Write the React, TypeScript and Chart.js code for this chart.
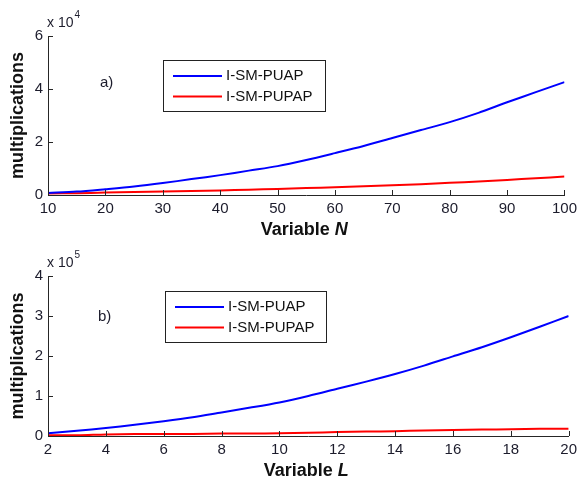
import React, { useEffect, useRef } from "react";
import { Chart, registerables } from "chart.js";

Chart.register(...registerables);

// ---- Data ----
const seriesNames = ["I-SM-PUAP", "I-SM-PUPAP"];

const topN = [10, 15, 20, 25, 30, 35, 40, 45, 50, 55, 60, 65, 70, 75, 80, 85, 90, 95, 100];
const topPUAP = [800, 1300, 2200, 3200, 4500, 6000, 7500, 9200, 10900, 13200, 15800, 18500, 21500, 24500, 27500, 31000, 35000, 38800, 42600];
const topPUPAP = [600, 700, 900, 1100, 1300, 1500, 1700, 2000, 2300, 2600, 2900, 3300, 3700, 4100, 4600, 5100, 5700, 6300, 7000];

const botL = [2, 3, 4, 5, 6, 7, 8, 9, 10, 11, 12, 13, 14, 15, 16, 17, 18, 19, 20];
const botPUAP = [7000, 13000, 20000, 28000, 37000, 47000, 59000, 71000, 84000, 100000, 118000, 136000, 155000, 176000, 199000, 222000, 247000, 273000, 300000];
const botPUPAP = [2000, 2000, 4000, 5000, 5000, 5000, 6000, 6000, 7000, 8000, 10000, 11000, 12000, 14000, 15000, 16000, 17000, 18000, 18000];

const topXTicks = { min: 10, max: 100, step: 10 };
const topYTicks = { min: 0, max: 60000, step: 20000, exp: 4 };
const botXTicks = { min: 2, max: 20, step: 2 };
const botYTicks = { min: 0, max: 400000, step: 100000, exp: 5 };

const FONT = "'Liberation Sans', Arial, sans-serif";
const AXIS = "#262626";
const TXT = "#1c1c2c";

type PanelCfg = {
  xs: number[];
  ys: number[][];
  xT: { min: number; max: number; step: number };
  yT: { min: number; max: number; step: number; exp: number };
  tag: string;
  varName: string;
  legendBox: [number, number, number, number];
  tagPos: [number, number];
};

function makePlugin(cfg: PanelCfg) {
  return {
    id: "decor",
    afterDraw(chart: any) {
      const ctx = chart.ctx as CanvasRenderingContext2D;
      const ca = chart.chartArea;
      const xs = chart.scales.x;
      const ys = chart.scales.y;
      ctx.save();
      // inward ticks
      ctx.strokeStyle = AXIS;
      ctx.lineWidth = 1;
      ctx.beginPath();
      xs.ticks.forEach((t: any) => {
        const px = Math.round(xs.getPixelForValue(t.value)) + 0.5;
        ctx.moveTo(px, ca.bottom);
        ctx.lineTo(px, ca.bottom - 5);
      });
      ys.ticks.forEach((t: any) => {
        const py = Math.round(ys.getPixelForValue(t.value)) + 0.5;
        ctx.moveTo(ca.left, py);
        ctx.lineTo(ca.left + 5, py);
      });
      ctx.stroke();

      // exponent label
      ctx.fillStyle = TXT;
      ctx.textBaseline = "alphabetic";
      ctx.textAlign = "left";
      ctx.font = `14px ${FONT}`;
      ctx.fillText("x 10", ca.left - 1, ca.top - 9);
      const w = ctx.measureText("x 10").width;
      ctx.font = `10px ${FONT}`;
      ctx.fillText(String(cfg.yT.exp), ca.left - 1 + w + 1, ca.top - 18);

      // panel tag
      ctx.font = `15px ${FONT}`;
      ctx.textBaseline = "middle";
      ctx.fillText(cfg.tag, cfg.tagPos[0], cfg.tagPos[1]);

      // y title
      ctx.save();
      ctx.translate(18, (ca.top + ca.bottom) / 2);
      ctx.rotate(-Math.PI / 2);
      ctx.textAlign = "center";
      ctx.textBaseline = "middle";
      ctx.font = `bold 18px ${FONT}`;
      ctx.fillStyle = "#111";
      ctx.fillText("multiplications", 0, 0);
      ctx.restore();

      // x title with italic variable
      ctx.font = `bold 18px ${FONT}`;
      const a = "Variable ";
      const wa = ctx.measureText(a).width;
      ctx.font = `italic bold 18px ${FONT}`;
      const wb = ctx.measureText(cfg.varName).width;
      const cx = (ca.left + ca.right) / 2 - 2;
      const x0 = cx - (wa + wb) / 2;
      const ty = ca.bottom + 35;
      ctx.fillStyle = "#111";
      ctx.textAlign = "left";
      ctx.textBaseline = "middle";
      ctx.font = `bold 18px ${FONT}`;
      ctx.fillText(a, x0, ty);
      ctx.font = `italic bold 18px ${FONT}`;
      ctx.fillText(cfg.varName, x0 + wa, ty);

      // legend
      const [lx, ly, lw, lh] = cfg.legendBox;
      ctx.fillStyle = "#fff";
      ctx.fillRect(lx, ly, lw, lh);
      ctx.strokeStyle = "#222";
      ctx.lineWidth = 1;
      ctx.strokeRect(lx + 0.5, ly + 0.5, lw, lh);
      chart.data.datasets.forEach((ds: any, i: number) => {
        const rowY = ly + 16 + i * 20.5;
        ctx.strokeStyle = ds.borderColor;
        ctx.lineWidth = 2;
        ctx.beginPath();
        ctx.moveTo(lx + 10, rowY);
        ctx.lineTo(lx + 59, rowY);
        ctx.stroke();
        ctx.fillStyle = "#111";
        ctx.font = `15px ${FONT}`;
        ctx.textBaseline = "middle";
        ctx.textAlign = "left";
        ctx.fillText(ds.label, lx + 63, rowY);
      });
      ctx.restore();
    },
  };
}

function Panel({ cfg, height }: { cfg: PanelCfg; height: number }) {
  const ref = useRef<HTMLCanvasElement>(null);
  useEffect(() => {
    if (!ref.current) return;
    const colors = ["#0000ff", "#ff0000"];
    const chart = new Chart(ref.current, {
      type: "line",
      data: {
        datasets: cfg.ys.map((arr, i) => ({
          label: seriesNames[i],
          data: cfg.xs.map((x, j) => ({ x, y: arr[j] })),
          borderColor: colors[i],
          backgroundColor: colors[i],
          borderWidth: 2,
          pointRadius: 0,
          tension: 0.3,
          fill: false,
        })),
      },
      options: {
        animation: false,
        responsive: false,
        maintainAspectRatio: false,
        events: [],
        layout: { padding: { top: 36, right: 12, left: 0, bottom: 0 } },
        plugins: {
          legend: { display: false },
          tooltip: { enabled: false },
        },
        scales: {
          x: {
            type: "linear",
            min: cfg.xT.min,
            max: cfg.xT.max,
            afterFit: (s: any) => {
              s.height = 45;
            },
            ticks: {
              stepSize: cfg.xT.step,
              font: { family: FONT, size: 15 },
              color: TXT,
              padding: 5,
              maxRotation: 0,
              autoSkip: false,
            },
            grid: { display: true, drawOnChartArea: false, drawTicks: false },
            border: { display: true, color: AXIS, width: 1 },
          },
          y: {
            type: "linear",
            min: cfg.yT.min,
            max: cfg.yT.max,
            afterFit: (s: any) => {
              s.width = 48;
            },
            ticks: {
              stepSize: cfg.yT.step,
              font: { family: FONT, size: 15 },
              color: TXT,
              padding: 5,
              callback: (v: any) => String(Number(v) / Math.pow(10, cfg.yT.exp)),
            },
            grid: { display: true, drawOnChartArea: false, drawTicks: false },
            border: { display: true, color: AXIS, width: 1 },
          },
        },
      },
      plugins: [makePlugin(cfg)],
    });
    return () => chart.destroy();
  }, []);
  return <canvas ref={ref} width={582} height={height} style={{ display: "block", width: 582, height }} />;
}

export default function App() {
  const top: PanelCfg = {
    xs: topN,
    ys: [topPUAP, topPUPAP],
    xT: topXTicks,
    yT: topYTicks,
    tag: "a)",
    varName: "N",
    legendBox: [163, 60, 162, 51],
    tagPos: [100, 83],
  };
  const bot: PanelCfg = {
    xs: botL,
    ys: [botPUAP, botPUPAP],
    xT: botXTicks,
    yT: botYTicks,
    tag: "b)",
    varName: "L",
    legendBox: [165, 51, 161, 51],
    tagPos: [98, 77],
  };
  return (
    <div style={{ position: "absolute", left: 0, top: 0, width: 582, height: 481, background: "#fff" }}>
      <Panel cfg={top} height={240} />
      <Panel cfg={bot} height={241} />
    </div>
  );
}
